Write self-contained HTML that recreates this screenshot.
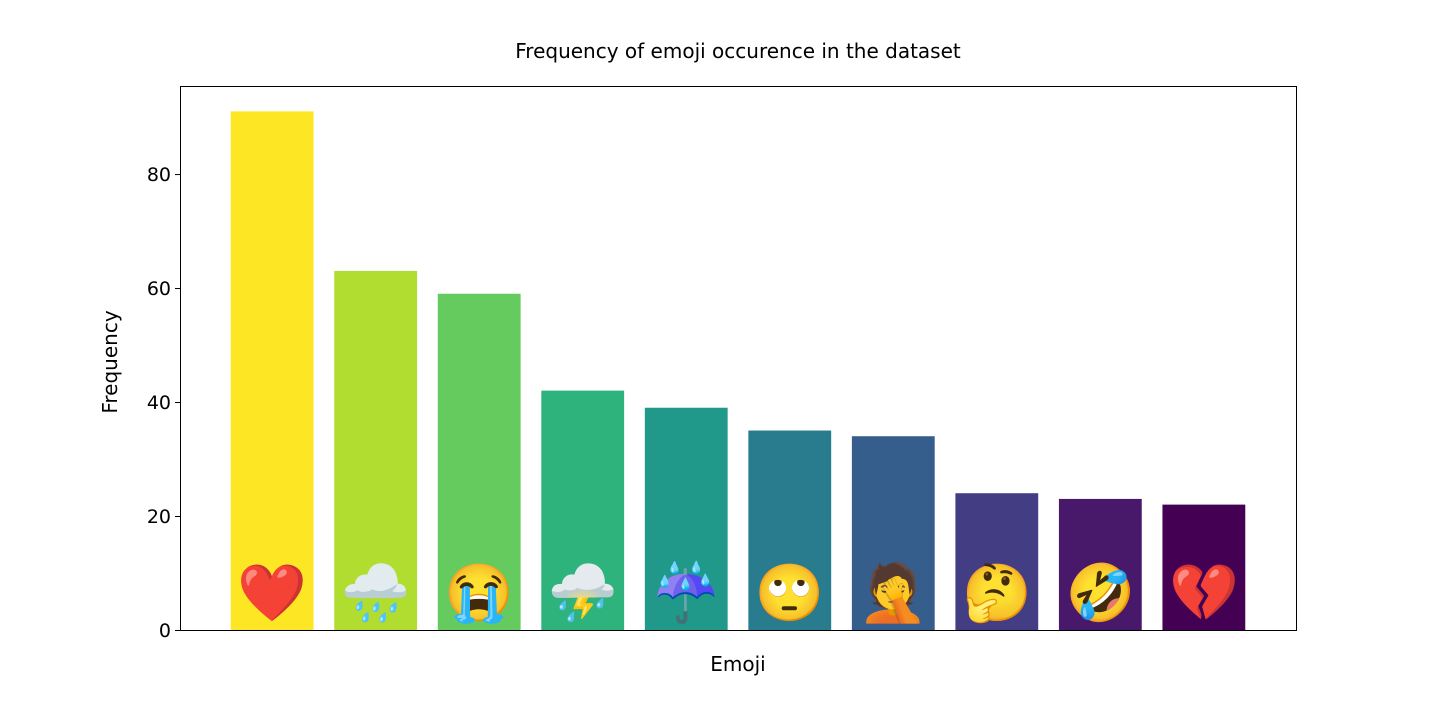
<!DOCTYPE html>
<html><head><meta charset="utf-8"><style>
body{margin:0;background:#fff;font-family:"Liberation Sans","DejaVu Sans",sans-serif}
svg text{font-family:"DejaVu Sans","Liberation Sans",sans-serif}
svg text.emoji{font-family:"Noto Color Emoji","Apple Color Emoji","Segoe UI Emoji",sans-serif}
</style></head><body>
<svg id="chart" width="1440" height="720">
<text x="738" y="58" font-size="20" text-anchor="middle">Frequency of emoji occurence in the dataset</text>
<text x="738" y="671" font-size="20" text-anchor="middle">Emoji</text>
<text transform="translate(117,362) rotate(-90)" font-size="20" text-anchor="middle">Frequency</text>
<g id="bars"></g>
<g id="yticks"></g>
<rect x="180.5" y="86.5" width="1116" height="544" fill="none" stroke="#000" stroke-width="1"/>
</svg>
<script>
const categories = ["❤️","🌧️","😭","⛈️","☔️","🙄","🤦","🤔","🤣","💔"];
const frequencies = [91, 63, 59, 42, 39, 35, 34, 24, 23, 22];
const barColors = ["#fde725","#b0dd2f","#65cb5e","#2eb37c","#21998a","#297b8e","#355e8d","#433d84","#48186a","#440154"];
const yTickValues = [0, 20, 40, 60, 80];

const plot = {x0:180, x1:1296, y0:86, y1:630};
const yMax = 95.45;
const xMin = -0.89, xMax = categories.length - 1 + 0.89;
const yScale = v => plot.y1 - v / yMax * (plot.y1 - plot.y0);
const xScale = i => plot.x0 + (i - xMin) / (xMax - xMin) * (plot.x1 - plot.x0);
const step = xScale(1) - xScale(0);
const bw = step * 0.8;
const NS = "http://www.w3.org/2000/svg";
const bars = document.getElementById("bars");
categories.forEach((c, i) => {
  const r = document.createElementNS(NS, "rect");
  r.setAttribute("x", xScale(i) - bw / 2);
  r.setAttribute("y", yScale(frequencies[i]));
  r.setAttribute("width", bw);
  r.setAttribute("height", yScale(0) - yScale(frequencies[i]));
  r.setAttribute("fill", barColors[i]);
  
  
  bars.appendChild(r);
  const t = document.createElementNS(NS, "text");
  t.setAttribute("x", xScale(i));
  t.setAttribute("y", yScale(0) - 18);
  t.setAttribute("font-size", "56");
  t.setAttribute("text-anchor", "middle");
  t.setAttribute("class", "emoji");
  t.textContent = c;
  
  
  bars.appendChild(t);
});
const yt = document.getElementById("yticks");
yTickValues.forEach(v => {
  const y = yScale(v);
  const l = document.createElementNS(NS, "line");
  l.setAttribute("x1", plot.x0 - 5); l.setAttribute("x2", plot.x0);
  l.setAttribute("y1", y + 0.5); l.setAttribute("y2", y + 0.5);
  l.setAttribute("stroke", "#000");
  
  
  yt.appendChild(l);
  const t = document.createElementNS(NS, "text");
  t.setAttribute("x", plot.x0 - 9);
  t.setAttribute("y", y + 7);
  t.setAttribute("font-size", "19");
  t.setAttribute("text-anchor", "end");
  t.textContent = v;
  
  
  yt.appendChild(t);
});
</script>
</body></html>
